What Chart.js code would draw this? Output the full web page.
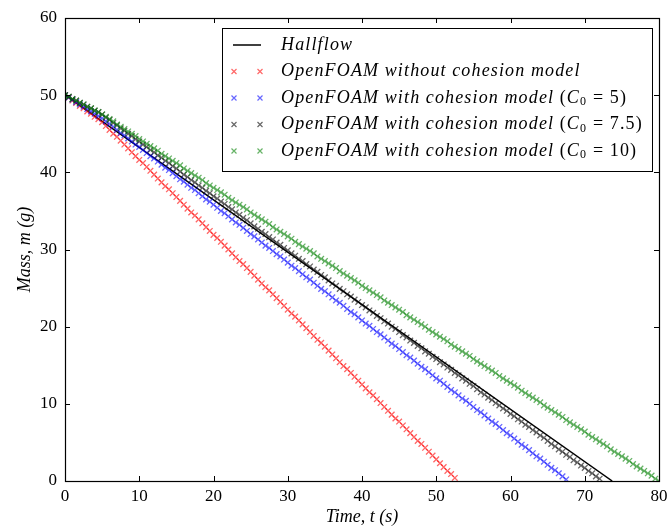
<!DOCTYPE html>
<html lang="en">
<head>
<meta charset="UTF-8">
<title>Mass vs time</title>
<script src="https://cdn.jsdelivr.net/npm/chart.js@4.4.0/dist/chart.umd.min.js"></script>
<style>
  html, body { margin: 0; padding: 0; background: #fff; }
  #wrap { width: 667px; height: 530px; position: relative; }
</style>
</head>
<body>
<div id="wrap"><canvas id="massChart"></canvas></div>
<script>
// sample times (s), shared by the OpenFOAM runs
const times = [
  0, 0.5, 1, 1.5, 2, 2.5, 3, 3.5, 4, 4.5, 5, 5.5, 6, 6.5, 7, 7.5, 8, 8.5, 9, 9.5,
  10, 10.5, 11, 11.5, 12, 12.5, 13, 13.5, 14, 14.5, 15, 15.5, 16, 16.5, 17, 17.5, 18, 18.5, 19, 19.5,
  20, 20.5, 21, 21.5, 22, 22.5, 23, 23.5, 24, 24.5, 25, 25.5, 26, 26.5, 27, 27.5, 28, 28.5, 29, 29.5,
  30, 30.5, 31, 31.5, 32, 32.5, 33, 33.5, 34, 34.5, 35, 35.5, 36, 36.5, 37, 37.5, 38, 38.5, 39, 39.5,
  40, 40.5, 41, 41.5, 42, 42.5, 43, 43.5, 44, 44.5, 45, 45.5, 46, 46.5, 47, 47.5, 48, 48.5, 49, 49.5,
  50, 50.5, 51, 51.5, 52, 52.5, 53, 53.5, 54, 54.5, 55, 55.5, 56, 56.5, 57, 57.5, 58, 58.5, 59, 59.5,
  60, 60.5, 61, 61.5, 62, 62.5, 63, 63.5, 64, 64.5, 65, 65.5, 66, 66.5, 67, 67.5, 68, 68.5, 69, 69.5,
  70, 70.5, 71, 71.5, 72, 72.5, 73, 73.5, 74, 74.5, 75, 75.5, 76, 76.5, 77, 77.5, 78, 78.5, 79, 79.5,
  80
];

// Hallflow (straight line)
const hallflowT = [0, 73.7];
const hallflowM = [50, 0];

// mass (g) per run
const noCohesion = [
  50.0, 49.7, 49.3, 49.0, 48.6, 48.3, 47.9, 47.6, 47.2, 46.9,
  46.5, 46.0, 45.5, 45.0, 44.6, 44.1, 43.6, 43.1, 42.6, 42.1,
  41.6, 41.2, 40.7, 40.2, 39.7, 39.2, 38.7, 38.2, 37.8, 37.3,
  36.8, 36.3, 35.8, 35.3, 34.8, 34.4, 33.9, 33.4, 32.9, 32.4,
  31.9, 31.5, 31.0, 30.5, 30.0, 29.5, 29.0, 28.5, 28.1, 27.6,
  27.1, 26.6, 26.1, 25.6, 25.1, 24.7, 24.2, 23.7, 23.2, 22.7,
  22.2, 21.7, 21.3, 20.8, 20.3, 19.8, 19.3, 18.8, 18.3, 17.9,
  17.4, 16.9, 16.4, 15.9, 15.4, 14.9, 14.5, 14.0, 13.5, 13.0,
  12.5, 12.0, 11.5, 11.1, 10.6, 10.1, 9.6, 9.1, 8.6, 8.1,
  7.7, 7.2, 6.7, 6.2, 5.7, 5.2, 4.8, 4.3, 3.8, 3.3,
  2.8, 2.3, 1.8, 1.3, 0.9, 0.4
];
const cohesionC5 = [
  50.0, 49.7, 49.4, 49.1, 48.8, 48.5, 48.2, 47.9, 47.6, 47.3,
  47.0, 46.6, 46.3, 45.9, 45.5, 45.1, 44.8, 44.4, 44.0, 43.6,
  43.3, 42.9, 42.5, 42.1, 41.8, 41.4, 41.0, 40.6, 40.3, 39.9,
  39.5, 39.1, 38.8, 38.4, 38.0, 37.7, 37.3, 36.9, 36.5, 36.2,
  35.8, 35.4, 35.0, 34.7, 34.3, 33.9, 33.5, 33.2, 32.8, 32.4,
  32.0, 31.7, 31.3, 30.9, 30.5, 30.2, 29.8, 29.4, 29.1, 28.7,
  28.3, 27.9, 27.6, 27.2, 26.8, 26.4, 26.1, 25.7, 25.3, 24.9,
  24.6, 24.2, 23.8, 23.4, 23.1, 22.7, 22.3, 21.9, 21.6, 21.2,
  20.8, 20.4, 20.1, 19.7, 19.3, 19.0, 18.6, 18.2, 17.8, 17.5,
  17.1, 16.7, 16.3, 16.0, 15.6, 15.2, 14.8, 14.5, 14.1, 13.7,
  13.3, 13.0, 12.6, 12.2, 11.8, 11.5, 11.1, 10.7, 10.4, 10.0,
  9.6, 9.2, 8.9, 8.5, 8.1, 7.7, 7.4, 7.0, 6.6, 6.2,
  5.9, 5.5, 5.1, 4.7, 4.4, 4.0, 3.6, 3.2, 2.9, 2.5,
  2.1, 1.7, 1.4, 1.0, 0.6, 0.2
];
const cohesionC75 = [
  50.0, 49.8, 49.5, 49.3, 49.0, 48.8, 48.5, 48.3, 48.0, 47.8,
  47.5, 47.1, 46.8, 46.4, 46.1, 45.7, 45.4, 45.0, 44.7, 44.3,
  44.0, 43.6, 43.3, 42.9, 42.6, 42.2, 41.9, 41.5, 41.2, 40.8,
  40.5, 40.1, 39.7, 39.4, 39.0, 38.7, 38.3, 38.0, 37.6, 37.3,
  36.9, 36.6, 36.2, 35.9, 35.5, 35.2, 34.8, 34.5, 34.1, 33.8,
  33.4, 33.0, 32.7, 32.3, 32.0, 31.6, 31.3, 30.9, 30.6, 30.2,
  29.9, 29.5, 29.2, 28.8, 28.5, 28.1, 27.8, 27.4, 27.1, 26.7,
  26.4, 26.0, 25.6, 25.3, 24.9, 24.6, 24.2, 23.9, 23.5, 23.2,
  22.8, 22.5, 22.1, 21.8, 21.4, 21.1, 20.7, 20.4, 20.0, 19.7,
  19.3, 18.9, 18.6, 18.2, 17.9, 17.5, 17.2, 16.8, 16.5, 16.1,
  15.8, 15.4, 15.1, 14.7, 14.4, 14.0, 13.7, 13.3, 13.0, 12.6,
  12.3, 11.9, 11.5, 11.2, 10.8, 10.5, 10.1, 9.8, 9.4, 9.1,
  8.7, 8.4, 8.0, 7.7, 7.3, 7.0, 6.6, 6.3, 5.9, 5.6,
  5.2, 4.8, 4.5, 4.1, 3.8, 3.4, 3.1, 2.7, 2.4, 2.0,
  1.7, 1.3, 1.0, 0.6, 0.3
];
const cohesionC10 = [
  50.0, 49.8, 49.5, 49.3, 49.0, 48.8, 48.5, 48.3, 48.0, 47.8,
  47.5, 47.2, 46.9, 46.6, 46.2, 45.9, 45.6, 45.3, 45.0, 44.7,
  44.3, 44.0, 43.7, 43.4, 43.1, 42.8, 42.4, 42.1, 41.8, 41.5,
  41.2, 40.9, 40.5, 40.2, 39.9, 39.6, 39.3, 39.0, 38.6, 38.3,
  38.0, 37.7, 37.4, 37.1, 36.7, 36.4, 36.1, 35.8, 35.5, 35.2,
  34.8, 34.5, 34.2, 33.9, 33.6, 33.3, 32.9, 32.6, 32.3, 32.0,
  31.7, 31.4, 31.0, 30.7, 30.4, 30.1, 29.8, 29.5, 29.1, 28.8,
  28.5, 28.2, 27.9, 27.6, 27.2, 26.9, 26.6, 26.3, 26.0, 25.7,
  25.3, 25.0, 24.7, 24.4, 24.1, 23.8, 23.4, 23.1, 22.8, 22.5,
  22.2, 21.9, 21.5, 21.2, 20.9, 20.6, 20.3, 20.0, 19.6, 19.3,
  19.0, 18.7, 18.4, 18.1, 17.7, 17.4, 17.1, 16.8, 16.5, 16.2,
  15.8, 15.5, 15.2, 14.9, 14.6, 14.3, 14.0, 13.6, 13.3, 13.0,
  12.7, 12.4, 12.1, 11.7, 11.4, 11.1, 10.8, 10.5, 10.2, 9.8,
  9.5, 9.2, 8.9, 8.6, 8.3, 7.9, 7.6, 7.3, 7.0, 6.7,
  6.4, 6.0, 5.7, 5.4, 5.1, 4.8, 4.5, 4.1, 3.8, 3.5,
  3.2, 2.9, 2.6, 2.2, 1.9, 1.6, 1.3, 1.0, 0.7, 0.3,
  0.0
];

const xTicks = [0, 10, 20, 30, 40, 50, 60, 70, 80];
const yTicks = [0, 10, 20, 30, 40, 50, 60];

const legendLabels = [
  'Hallflow',
  'OpenFOAM without cohesion model',
  'OpenFOAM with cohesion model (C_0 = 5)',
  'OpenFOAM with cohesion model (C_0 = 7.5)',
  'OpenFOAM with cohesion model (C_0 = 10)'
];
const legendColors = ['#000000', 'rgba(255,0,0,0.6)', 'rgba(0,0,255,0.6)', 'rgba(0,0,0,0.6)', 'rgba(0,128,0,0.6)'];

const SERIF = '"Liberation Serif", "DejaVu Serif", serif';

function pts(xs, ys) {
  return ys.map((y, i) => ({ x: xs[i], y: y }));
}

function markerSet(label, ys, color, order) {
  return {
    label: label,
    data: pts(times, ys),
    showLine: false,
    pointStyle: 'crossRot',
    pointRadius: 4,
    pointHoverRadius: 4,
    pointBorderWidth: 1.3,
    borderColor: color,
    backgroundColor: color,
    order: order
  };
}

// draws the legend text with math-style italics and C_0 subscripts
function drawRich(ctx, text, x, y) {
  let cx = x;
  for (let i = 0; i < text.length; i++) {
    let ch = text[i];
    if (ch === '_') {
      i++;
      ctx.font = '12px ' + SERIF;
      ctx.fillText(text[i], cx, y + 4);
      cx += ctx.measureText(text[i]).width + 1.5;
      continue;
    }
    const isLetter = /[A-Za-z]/.test(ch);
    ctx.font = (isLetter ? 'italic ' : '') + '18px ' + SERIF;
    if (ch === ' ') {
      cx += 5.5;
      continue;
    }
    ctx.fillText(ch, cx, y);
    cx += ctx.measureText(ch).width + 1.15;
  }
}

const framePlugin = {
  id: 'frame',
  afterDraw(chart) {
    const { ctx, chartArea: a, scales } = chart;
    ctx.save();
    ctx.strokeStyle = '#000';
    ctx.lineWidth = 1;
    ctx.beginPath();
    // inward ticks on all four sides
    xTicks.forEach(v => {
      const px = Math.round(scales.x.getPixelForValue(v)) + 0.5;
      ctx.moveTo(px, a.bottom); ctx.lineTo(px, a.bottom - 5);
      ctx.moveTo(px, a.top); ctx.lineTo(px, a.top + 5);
    });
    yTicks.forEach(v => {
      const py = Math.round(scales.y.getPixelForValue(v)) + 0.5;
      ctx.moveTo(a.left, py); ctx.lineTo(a.left + 5, py);
      ctx.moveTo(a.right, py); ctx.lineTo(a.right - 5, py);
    });
    ctx.stroke();
    ctx.lineWidth = 1.2;
    ctx.strokeRect(Math.round(a.left) + 0.5, Math.round(a.top) + 0.5,
      Math.round(a.right - a.left), Math.round(a.bottom - a.top));

    // legend
    const bx = 222.5, by = 28.5, bw = 430, bh = 143;
    ctx.fillStyle = '#fff';
    ctx.fillRect(bx, by, bw, bh);
    ctx.lineWidth = 1;
    ctx.strokeStyle = '#000';
    ctx.strokeRect(bx, by, bw, bh);
    ctx.textBaseline = 'middle';
    ctx.textAlign = 'left';
    legendLabels.forEach((lab, i) => {
      const ry = 45 + i * 26.5;
      ctx.strokeStyle = legendColors[i];
      if (i === 0) {
        ctx.lineWidth = 1.5;
        ctx.beginPath();
        ctx.moveTo(233, ry); ctx.lineTo(261, ry);
        ctx.stroke();
      } else {
        ctx.lineWidth = 1.2;
        [234, 260].forEach(mx => {
          ctx.beginPath();
          ctx.moveTo(mx - 2.5, ry - 2.5); ctx.lineTo(mx + 2.5, ry + 2.5);
          ctx.moveTo(mx - 2.5, ry + 2.5); ctx.lineTo(mx + 2.5, ry - 2.5);
          ctx.stroke();
        });
      }
      ctx.fillStyle = '#000';
      drawRich(ctx, lab, 281, ry);
    });
    ctx.restore();
  }
};

new Chart(document.getElementById('massChart'), {
  type: 'scatter',
  data: {
    datasets: [
      {
        label: 'Hallflow',
        data: pts(hallflowT, hallflowM),
        showLine: true,
        borderColor: '#000',
        borderWidth: 1.5,
        pointRadius: 0,
        order: 5
      },
      markerSet('OpenFOAM without cohesion model', noCohesion, legendColors[1], 4),
      markerSet('OpenFOAM with cohesion model (C0 = 5)', cohesionC5, legendColors[2], 3),
      markerSet('OpenFOAM with cohesion model (C0 = 7.5)', cohesionC75, legendColors[3], 2),
      markerSet('OpenFOAM with cohesion model (C0 = 10)', cohesionC10, legendColors[4], 1)
    ]
  },
  options: {
    responsive: true,
    maintainAspectRatio: false,
    animation: false,
    layout: { padding: { top: 18, right: 8, left: 0, bottom: 0 } },
    plugins: {
      legend: { display: false },
      tooltip: { enabled: false }
    },
    scales: {
      x: {
        type: 'linear',
        min: 0, max: 80,
        afterBuildTicks: s => { s.ticks = xTicks.map(v => ({ value: v })); },
        afterFit: s => { s.height = 49; s.paddingLeft = 0; s.paddingRight = 0; },
        grid: { display: false, drawTicks: false },
        border: { display: false },
        ticks: { color: '#000', padding: 5, font: { family: SERIF, size: 17 } },
        title: {
          display: true,
          text: 'Time, t (s)',
          color: '#000',
          padding: { bottom: 2, top: 0 },
          font: { family: SERIF, size: 18, style: 'italic' }
        }
      },
      y: {
        type: 'linear',
        min: 0, max: 60,
        afterBuildTicks: s => { s.ticks = yTicks.map(v => ({ value: v })); },
        afterFit: s => { s.width = 65; s.paddingTop = 0; s.paddingBottom = 0; },
        grid: { display: false, drawTicks: false },
        border: { display: false },
        ticks: { color: '#000', padding: 8, font: { family: SERIF, size: 17 } },
        title: {
          display: true,
          text: 'Mass, m (g)',
          color: '#000',
          padding: { top: 14, bottom: 0 },
          font: { family: SERIF, size: 18, style: 'italic' }
        }
      }
    }
  },
  plugins: [framePlugin]
});
</script>
</body>
</html>
